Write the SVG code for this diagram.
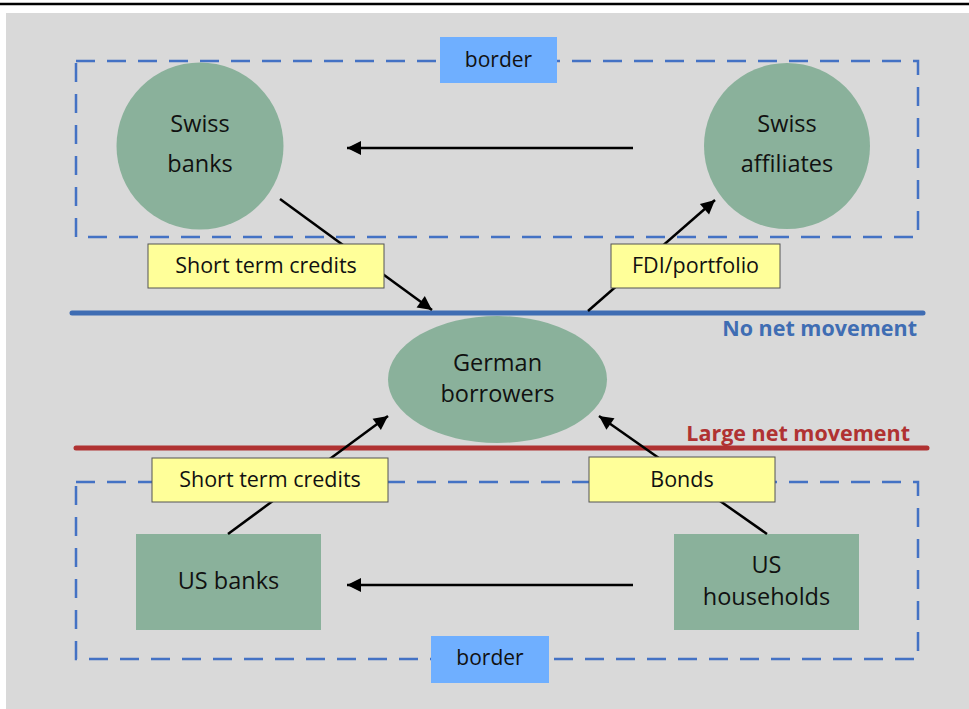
<svg xmlns="http://www.w3.org/2000/svg" width="969" height="709" viewBox="0 0 969 709">
  <style>
    text { font-family: "Open Sans", "Noto Sans", "DejaVu Sans", sans-serif; fill: #111; text-anchor: middle; }
    .node { fill: #8AB19B; }
    .nt { font-size: 23.5px; }
    .lbl rect { fill: #FFFF99; stroke: #555; stroke-width: 1; }
    .lt { font-size: 21.5px; }
    .border-box { fill: none; stroke: #4472C4; stroke-width: 2.5; stroke-dasharray: 19 12; }
    .btag { fill: #6FAFFF; }
    .bt { font-size: 21px; }
    .conn { stroke: #000; stroke-width: 2.5; fill: none; marker-end: url(#ah); }
    .cap { font-size: 21.5px; font-weight: bold; text-anchor: end; }
  </style>
  <defs>
    <marker id="ah" markerUnits="userSpaceOnUse" markerWidth="16" markerHeight="16" viewBox="0 0 16 16" refX="15" refY="8" orient="auto">
      <path d="M1,1 L15,8 L1,15 Z" fill="#000"/>
    </marker>
  </defs>

  <rect x="0" y="0" width="969" height="709" fill="#fff"/>
  <rect x="6" y="13" width="963" height="696" fill="#D9D9D9"/>
  <line x1="0" y1="4" x2="969" y2="4" stroke="#000" stroke-width="2.5"/>

  <!-- borders -->
  <g id="border-top">
    <rect class="border-box" x="76" y="61" width="842" height="176"/>
    <rect class="btag" x="440" y="37" width="117" height="46"/>
    <text class="bt" x="498.5" y="67">border</text>
  </g>
  <g id="border-bottom">
    <rect class="border-box" x="76" y="482" width="842" height="177"/>
    <rect class="btag" x="431" y="636" width="118" height="47"/>
    <text class="bt" x="490" y="665">border</text>
  </g>

  <!-- separator lines -->
  <g id="no-net">
    <line x1="72" y1="313" x2="923" y2="313" stroke="#3F6DB3" stroke-width="5" stroke-linecap="round"/>
    <text class="cap" x="917" y="336" style="fill:#3F6DB3">No net movement</text>
  </g>
  <g id="large-net">
    <line x1="76" y1="448" x2="927" y2="448" stroke="#B03232" stroke-width="5" stroke-linecap="round"/>
    <text class="cap" x="910" y="441" style="fill:#B03232">Large net movement</text>
  </g>

  <!-- nodes -->
  <g id="swiss-banks">
    <circle class="node" cx="200" cy="146" r="83.5"/>
    <text class="nt" x="200" y="132">Swiss</text>
    <text class="nt" x="200" y="172">banks</text>
  </g>
  <g id="swiss-affiliates">
    <circle class="node" cx="787" cy="146" r="83"/>
    <text class="nt" x="787" y="132">Swiss</text>
    <text class="nt" x="787" y="172">affiliates</text>
  </g>
  <g id="german-borrowers">
    <ellipse class="node" cx="497.5" cy="379.5" rx="109.5" ry="63.5"/>
    <text class="nt" x="497.5" y="371">German</text>
    <text class="nt" x="497.5" y="402">borrowers</text>
  </g>
  <g id="us-banks">
    <rect class="node" x="136" y="534" width="185" height="96"/>
    <text class="nt" x="228.5" y="589">US banks</text>
  </g>
  <g id="us-households">
    <rect class="node" x="674" y="534" width="185" height="96"/>
    <text class="nt" x="766.5" y="573">US</text>
    <text class="nt" x="766.5" y="605">households</text>
  </g>

  <!-- connectors -->
  <g id="connectors">
    <line class="conn" x1="633" y1="148" x2="347" y2="148"/>
    <line class="conn" x1="633" y1="585" x2="347" y2="585"/>
    <line class="conn" x1="280" y1="199" x2="432" y2="310"/>
    <line class="conn" x1="588" y1="311" x2="715" y2="200"/>
    <line class="conn" x1="228" y1="534" x2="388" y2="416"/>
    <line class="conn" x1="767" y1="534" x2="599" y2="416"/>
  </g>

  <!-- connector labels -->
  <g id="label-swiss-credits" class="lbl">
    <rect x="148" y="244" width="236" height="44"/>
    <text class="lt" x="266" y="273">Short term credits</text>
  </g>
  <g id="label-fdi" class="lbl">
    <rect x="611" y="244" width="169" height="44"/>
    <text class="lt" x="695.5" y="273">FDI/portfolio</text>
  </g>
  <g id="label-us-credits" class="lbl">
    <rect x="152" y="458" width="236" height="44"/>
    <text class="lt" x="270" y="487">Short term credits</text>
  </g>
  <g id="label-bonds" class="lbl">
    <rect x="589" y="457" width="186" height="45"/>
    <text class="lt" x="682" y="487">Bonds</text>
  </g>
</svg>
